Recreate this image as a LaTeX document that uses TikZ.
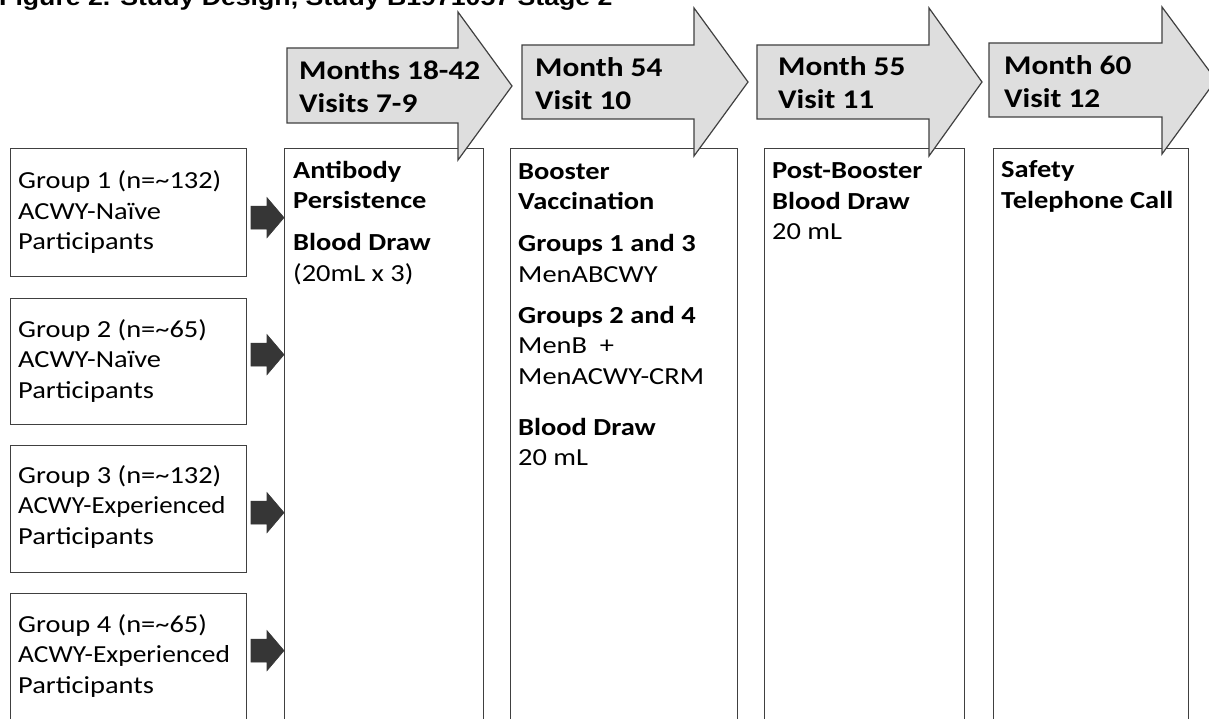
\documentclass[tikz,border=0pt]{standalone}
\usepackage{fontspec}
\setmainfont{Carlito}[FakeStretch=1.16]
\newfontfamily\titlefont{Liberation Sans}[FakeStretch=1.16]
\usetikzlibrary{calc}
\definecolor{boxline}{HTML}{404040}
\definecolor{arrfill}{HTML}{DEDEDE}
\definecolor{darkarr}{HTML}{363636}
\tikzset{
  smallarr/.pic={\filldraw[fill=darkarr, draw=darkarr, line width=0.6pt, line join=miter]
     (-33,-11.5) -- (-17,-11.5) -- (-17,-20) -- (0,0) -- (-17,20) -- (-17,11.5) -- (-33,11.5) -- cycle;}
}
\begin{document}
\begin{tikzpicture}[x=1pt,y=-1pt,
  box/.style={draw=boxline, line width=1.3pt, fill=white, inner sep=0pt, anchor=north west},
  bigarr/.style={draw=boxline, line width=1.2pt, fill=arrfill, line join=miter},
  body/.style={font=\fontsize{24.5}{30.5}\selectfont, align=left, inner sep=0pt, anchor=base west},
  headtxt/.style={font=\fontsize{27}{33}\selectfont\bfseries, align=left, inner sep=0pt, anchor=base west}]
\useasboundingbox (0,0) rectangle (1209,719);
\clip (0,0) rectangle (1209,719);
\fill[white] (0,0) rectangle (1209,719);

% title (cut off at the top)
\node[anchor=base west, inner sep=0pt, font=\titlefont\bfseries\fontsize{23}{28}\selectfont] (title) at (-1,6) {Figure 2. Study Design, Study B1971057 Stage 2};

% group boxes
\node[box, minimum width=236pt, minimum height=128pt] (g1) at (10,148) {};
\node[box, minimum width=236pt, minimum height=126pt] (g2) at (10,298) {};
\node[box, minimum width=236pt, minimum height=127pt] (g3) at (10,445) {};
\node[box, minimum width=236pt, minimum height=127pt] (g4) at (10,593) {};

% (anchors are at the baseline of the last line)
\node[body] (t1) at ($(g1.north west)+(8,102)$) {Group 1 (n=\textasciitilde132)\\ACWY-Naïve\\Participants};
\node[body] (t2) at ($(g2.north west)+(8,100)$) {Group 2 (n=\textasciitilde65)\\ACWY-Naïve\\Participants};
\node[body] (t3) at ($(g3.north west)+(8,99)$) {Group 3 (n=\textasciitilde132)\\\scalebox{0.945}[1]{ACWY-Experienced}\\Participants};
\node[body] (t4) at ($(g4.north west)+(8,100)$) {Group 4 (n=\textasciitilde65)\\\scalebox{0.965}[1]{ACWY-Experienced}\\Participants};

% visit columns
\node[box, minimum width=199pt, minimum height=620pt] (c1) at (284,148) {};
\node[box, minimum width=227pt, minimum height=620pt] (c2) at (510,148) {};
\node[box, minimum width=200pt, minimum height=620pt] (c3) at (764,148) {};
\node[box, minimum width=195pt, minimum height=620pt] (c4) at (993,148) {};

% timeline arrows
\filldraw[bigarr] (287,48) -- (458,48) -- (458,12) -- (512,86) -- (458,160) -- (458,123) -- (287,123) -- cycle;
\filldraw[bigarr] (522,45) -- (694,45) -- (694,8) -- (748,82) -- (694,156) -- (694,119) -- (522,119) -- cycle;
\filldraw[bigarr] (757,45) -- (929,45) -- (929,8) -- (982,82) -- (929,156) -- (929,119) -- (757,119) -- cycle;
\filldraw[bigarr] (989,43) -- (1162,43) -- (1162,7) -- (1216,80) -- (1162,154) -- (1162,117) -- (989,117) -- cycle;

\node[headtxt] (l1) at (299,113) {Months 18-42\\Visits 7-9};
\node[headtxt] (l2) at (535,110) {Month 54\\Visit 10};
\node[headtxt] (l3) at (778,109) {Month 55\\Visit 11};
\node[headtxt] (l4) at (1004,108) {Month 60\\Visit 12};

% column texts
\node[body] (x1) at ($(c1.north west)+(9,133)$) {\textbf{Antibody}\\\textbf{Persistence}\\[11.5pt]\textbf{Blood Draw}\\(20mL x 3)};
\node[body] (x2) at ($(c2.north west)+(8,317.5)$) {\textbf{Booster}\\\textbf{Vaccination}\\[11.5pt]\textbf{Groups 1 and 3}\\MenABCWY\\[10.5pt]\textbf{Groups 2 and 4}\\MenB\ \ +\\MenACWY-CRM\\[20.5pt]\textbf{Blood Draw}\\20 mL};
\node[body] (x3) at ($(c3.north west)+(8,92)$) {\textbf{Post-Booster}\\\textbf{Blood Draw}\\20 mL};
\node[body] (x4) at ($(c4.north west)+(8,60.5)$) {\textbf{Safety}\\\textbf{Telephone Call}};

% group -> persistence arrows
\pic at ($(c1.west |- g1.east)+(0,5)$) {smallarr};
\pic at ($(c1.west |- g2.east)+(0,-7)$) {smallarr};
\pic at ($(c1.west |- g3.east)+(0,3.5)$) {smallarr};
\pic at ($(c1.west |- g4.east)+(0,-6.5)$) {smallarr};
\end{tikzpicture}
\end{document}
